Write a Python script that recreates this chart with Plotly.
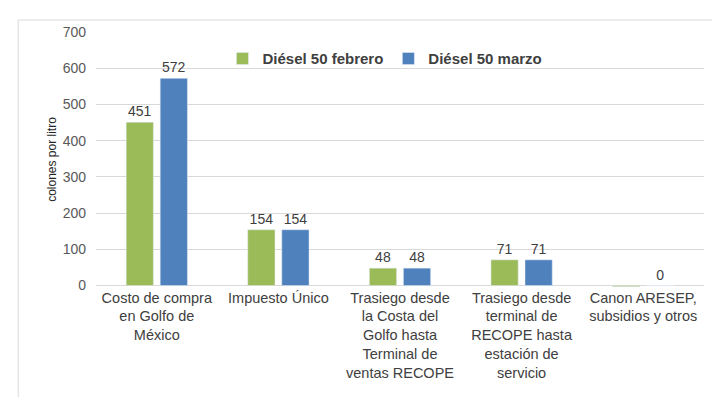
import plotly.graph_objects as go

categories = [
    "Costo de compra<br>en Golfo de<br>México",
    "Impuesto Único",
    "Trasiego desde<br>la Costa del<br>Golfo hasta<br>Terminal de<br>ventas RECOPE",
    "Trasiego desde<br>terminal de<br>RECOPE hasta<br>estación de<br>servicio",
    "Canon ARESEP,<br>subsidios y otros",
]
febrero = [451, 154, 48, 71, -3]
febrero_labels = ["451", "154", "48", "71", ""]
marzo = [572, 154, 48, 71, 0]
marzo_labels = ["572", "154", "48", "71", "0"]
y_ticks = [0, 100, 200, 300, 400, 500, 600, 700]

FONT = "Liberation Sans, Arial, sans-serif"

fig = go.Figure()
fig.add_trace(go.Bar(
    name="Diésel 50 febrero", x=categories, y=febrero,
    marker_color="#9BBB59", text=febrero_labels, textposition="outside",
    textfont=dict(size=14, color="#404040", family=FONT), cliponaxis=False,
))
fig.add_trace(go.Bar(
    name="Diésel 50 marzo", x=categories, y=marzo,
    marker_color="#4F81BD", text=marzo_labels, textposition="outside",
    textfont=dict(size=14, color="#404040", family=FONT), cliponaxis=False,
))

# page body has an 8px margin, so the figure is 8px smaller and margins shifted
fig.update_layout(
    width=712, height=389,
    margin=dict(l=88, r=16, t=24, b=110, autoexpand=False),
    paper_bgcolor="white", plot_bgcolor="white",
    barmode="group", bargap=0.44, bargroupgap=0.2,
    font=dict(family=FONT, size=13, color="#595959"),
    showlegend=True,
    legend=dict(
        orientation="h", x=0.208, y=0.895, xanchor="left", yanchor="middle",
        font=dict(size=15, color="#404040", family=FONT, weight="bold"),
        bgcolor="rgba(0,0,0,0)", itemwidth=30, traceorder="normal",
    ),
)
fig.update_yaxes(
    range=[-4, 700], tickvals=y_ticks, showgrid=True, gridcolor="#D9D9D9",
    gridwidth=1, zeroline=True, zerolinecolor="#D9D9D9", zerolinewidth=1,
    showline=False, ticks="", ticklen=0, automargin=False, ticklabelstandoff=9,
    tickfont=dict(size=14, color="#595959", family=FONT),
    title=dict(text="colones por litro", font=dict(size=12, color="#262626", family=FONT), standoff=3),
)
fig.update_xaxes(
    showgrid=False, showline=False, ticks="", automargin=False,
    tickfont=dict(size=14.5, color="#404040", family=FONT),
    tickangle=0,
)

# outer chart frame
fig.add_shape(type="rect", xref="paper", yref="paper",
              x0=-0.128, x1=1.018, y0=-1.0, y1=1.047,
              line=dict(color="#D9D9D9", width=1), fillcolor="rgba(0,0,0,0)", layer="below")
fig.add_shape(type="line", xref="paper", yref="paper",
              x0=1.023, x1=1.023, y0=-0.367, y1=-0.44,
              line=dict(color="#000000", width=1.5))

fig.write_html("out.html")
